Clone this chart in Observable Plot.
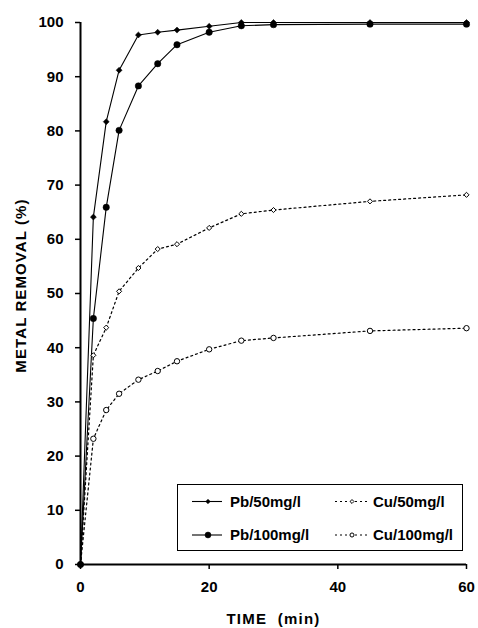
<!DOCTYPE html>
<html>
<head>
<meta charset="utf-8">
<script src="https://cdn.jsdelivr.net/npm/d3@7"></script>
<script src="https://cdn.jsdelivr.net/npm/@observablehq/plot@0.6"></script>
<style>
  html, body { margin: 0; padding: 0; background: #fff; }
  svg text { white-space: pre; }
</style>
</head>
<body>
<div id="chart"></div>
<script>
const time  = [0, 2, 4, 6, 9, 12, 15, 20, 25, 30, 45, 60];
const pb50  = [0, 64.1, 81.7, 91.2, 97.7, 98.2, 98.6, 99.3, 100, 100, 100, 100];
const pb100 = [0, 45.4, 65.9, 80.1, 88.3, 92.4, 95.9, 98.2, 99.4, 99.6, 99.7, 99.7];
const cu50  = [0, 38.6, 43.7, 50.4, 54.7, 58.2, 59.1, 62.1, 64.7, 65.4, 67.0, 68.2];
const cu100 = [0, 23.2, 28.5, 31.5, 34.1, 35.7, 37.5, 39.7, 41.3, 41.8, 43.1, 43.6];
const seriesNames = ["Pb/50mg/l", "Pb/100mg/l", "Cu/50mg/l", "Cu/100mg/l"];
const xTicks = [0, 20, 40, 60];
const yTicks = [0, 10, 20, 30, 40, 50, 60, 70, 80, 90, 100];
const xLabel = "TIME  (min)";
const yLabel = "METAL REMOVAL (%)";

const toRows = (vals) => time.map((t, i) => ({t, v: vals[i]}));
const dPb50 = toRows(pb50), dPb100 = toRows(pb100), dCu50 = toRows(cu50), dCu100 = toRows(cu100);

const font = "'Liberation Sans', Arial, Helvetica, sans-serif";

const plot = Plot.plot({
  width: 478,
  height: 628,
  marginLeft: 80,
  marginRight: 12,
  marginTop: 22,
  marginBottom: 64,
  x: {domain: [0, 60]},
  y: {domain: [0, 100]},
  style: {fontFamily: font, fontSize: "15px", fontWeight: "bold", color: "black", background: "white", overflow: "visible"},
  marks: [
    Plot.axisX({ticks: xTicks, tickSize: 5, tickPadding: 12, label: null, strokeWidth: 1.5}),
    Plot.axisY({ticks: yTicks, tickSize: 5, tickPadding: 12, label: null, strokeWidth: 1.5}),
    Plot.line(dCu50, {x: "t", y: "v", stroke: "black", strokeWidth: 1.2, strokeDasharray: "2,3"}),
    Plot.line(dCu100, {x: "t", y: "v", stroke: "black", strokeWidth: 1.2, strokeDasharray: "2,3"}),
    Plot.line(dPb100, {x: "t", y: "v", stroke: "black", strokeWidth: 1.1}),
    Plot.line(dPb50, {x: "t", y: "v", stroke: "black", strokeWidth: 1.1}),
    Plot.dot(dCu50, {x: "t", y: "v", symbol: "diamond2", r: 2.3, fill: "white", stroke: "black", strokeWidth: 1}),
    Plot.dot(dCu100, {x: "t", y: "v", symbol: "circle", r: 2.7, fill: "white", stroke: "black", strokeWidth: 1}),
    Plot.dot(dPb100, {x: "t", y: "v", symbol: "circle", r: 3.2, fill: "black", stroke: "black", strokeWidth: 0.5}),
    Plot.dot(dPb50, {x: "t", y: "v", symbol: "diamond2", r: 2.7, fill: "black", stroke: "black", strokeWidth: 0.5}),
    Plot.ruleX([0], {stroke: "black", strokeWidth: 2}),
    Plot.ruleY([0], {stroke: "black", strokeWidth: 2}),
    Plot.text([xLabel], {frameAnchor: "bottom", dy: 55, text: d => d, fontSize: 15, fontWeight: "bold", lineAnchor: "middle", textAnchor: "middle"}),
    Plot.text([yLabel], {frameAnchor: "left", dx: -59, dy: -8, rotate: -90, text: d => d, fontSize: 15, fontWeight: "bold", lineAnchor: "middle", textAnchor: "middle"})
  ]
});

document.getElementById("chart").appendChild(plot);

const svg = d3.select(plot);
svg.selectAll("text").filter(function() { return this.textContent === xLabel; }).attr("letter-spacing", "1.2px");
svg.selectAll("text").filter(function() { return this.textContent === yLabel; }).attr("letter-spacing", "1.1px");

// Legend (inside plot area)
const lg = svg.append("g").attr("font-family", font).attr("font-size", 15).attr("font-weight", "bold").attr("text-anchor", "start");
lg.append("rect").attr("x", 177.5).attr("y", 484.5).attr("width", 285).attr("height", 66)
  .attr("fill", "white").attr("stroke", "black").attr("stroke-width", 1);
const legendItems = [
  {name: seriesNames[0], col: 0, row: 0, dash: null, sym: d3.symbolDiamond2, size: 14, fill: "black"},
  {name: seriesNames[1], col: 0, row: 1, dash: null, sym: d3.symbolCircle, size: 28, fill: "black"},
  {name: seriesNames[2], col: 1, row: 0, dash: "2,3", sym: d3.symbolDiamond2, size: 10, fill: "white"},
  {name: seriesNames[3], col: 1, row: 1, dash: "2,3", sym: d3.symbolCircle, size: 13, fill: "white"}
];
const colX = [{x0: 192, x1: 222, mx: 208, tx: 230}, {x0: 335, x1: 367, mx: 352, tx: 373}];
const rowY = [501.5, 535];
legendItems.forEach(it => {
  const c = colX[it.col], y = rowY[it.row];
  lg.append("line").attr("x1", c.x0).attr("x2", c.x1).attr("y1", y).attr("y2", y)
    .attr("stroke", "black").attr("stroke-width", 1.1).attr("stroke-dasharray", it.dash);
  lg.append("path").attr("d", d3.symbol(it.sym, it.size)()).attr("transform", `translate(${c.mx},${y})`)
    .attr("fill", it.fill).attr("stroke", "black").attr("stroke-width", it.fill === "white" ? 1 : 0.5);
  lg.append("text").attr("x", c.tx).attr("y", y).attr("dy", "0.35em").attr("text-anchor", "start").attr("fill", "black").text(it.name);
});
</script>
</body>
</html>
